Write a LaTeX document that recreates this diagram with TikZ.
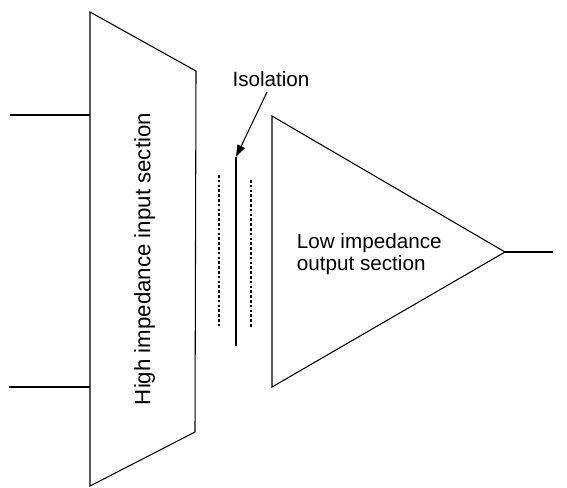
\documentclass[tikz,border=0pt]{standalone}
\usepackage{fontspec}
\setmainfont{Liberation Sans}
\usetikzlibrary{arrows.meta}
\begin{document}
\begin{tikzpicture}[x=0.75pt,y=-0.75pt,line width=0.8pt,every node/.style={font=\fontsize{15.5}{16.5}\selectfont,inner sep=1pt}]
\useasboundingbox (0,0) rectangle (567,487);
\coordinate (HA) at (90,12);
\coordinate (HB) at (196,71);
\coordinate (HC) at (195,432);
\coordinate (HD) at (90,486);
\coordinate (InA) at (10,115);
\coordinate (InB) at (9,387);
\coordinate (LA) at (272,116);
\coordinate (LB) at (272,387);
\coordinate (LT) at (505,252);
\coordinate (Out) at (553,252);
\coordinate (BarTop) at (236,157);
\coordinate (BarBot) at (236,346);
\coordinate (ArrowFrom) at (267,92);
\draw (HA) -- (HB) -- (HC) -- (HD) -- cycle;
\draw (InA) -- (InA -| HA);
\draw (InB) -- (InB -| HA);
\draw (LA) -- (LT) -- (LB) -- cycle;
\draw (LT) -- (Out);
\draw (BarTop) -- (BarBot);
\draw[dash pattern=on 2pt off 1.6pt] (219,175) -- (219,328);
\draw[dash pattern=on 2pt off 1.6pt] (251,180) -- (251,328);
\draw[-{Triangle[length=9pt,width=6pt]}] (ArrowFrom) -- (BarTop);
\node (iso) at (271,79) {Isolation};
\node[rotate=90,font=\fontsize{16.7}{18}\selectfont] (hi) at (144.5,259) {High impedance input section};
\node[anchor=west,align=left] (lo) at (295,254) {Low impedance\\output section};
\end{tikzpicture}
\end{document}
